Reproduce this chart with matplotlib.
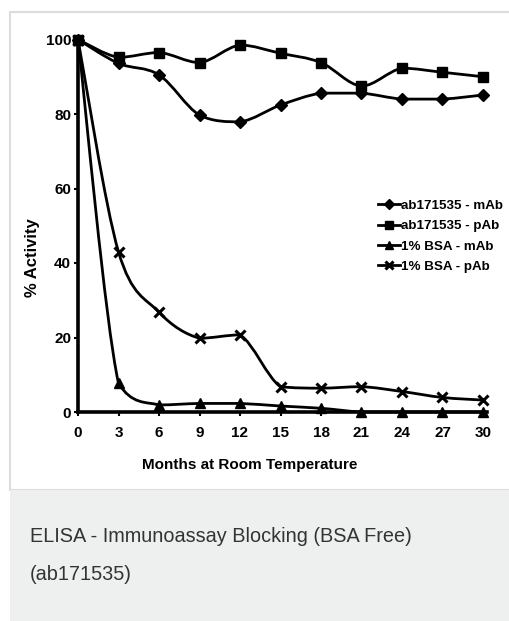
import matplotlib
matplotlib.use("Agg")
import matplotlib.pyplot as plt
from matplotlib.path import Path
from matplotlib.patches import PathPatch, Rectangle
from matplotlib.lines import Line2D
import numpy as np

# data
months = [0, 3, 6, 9, 12, 15, 18, 21, 24, 27, 30]
ab_mab = [100, 93.6, 90.5, 79.7, 77.9, 82.4, 85.6, 85.6, 84.0, 84.0, 85.1]
ab_pab = [100, 95.2, 96.5, 93.8, 98.5, 96.3, 93.8, 87.5, 92.3, 91.2, 90.0]
bsa_mab = [100, 7.7, 1.9, 2.3, 2.3, 1.6, 1.0, 0, 0, 0, 0]
bsa_pab = [100, 43.0, 26.8, 19.8, 20.7, 6.8, 6.4, 6.8, 5.5, 3.9, 3.2]
labels = ["ab171535 - mAb", "ab171535 - pAb", "1% BSA - mAb", "1% BSA - pAb"]
markers = ["D", "s", "^", "x"]

W, H = 510, 621
fig = plt.figure(figsize=(W / 100, H / 100), dpi=100)

# card background, border and caption panel
fig.patches.append(Rectangle((10 / W, 1 - 490 / H), 1, (490 - 12) / H,
                             transform=fig.transFigure, facecolor="white",
                             edgecolor="#dcdcdc", lw=1.5, zorder=-10))
fig.patches.append(Rectangle((10 / W, 0), 1, 1 - 490 / H,
                             transform=fig.transFigure, facecolor="#eeefef",
                             edgecolor="none", zorder=-10))

bold = dict(family="Liberation Sans", weight="bold")

ax = fig.add_axes([78 / W, (H - 412) / H, (483 - 78) / W, (412 - 39.5) / H])
ax.set_facecolor("none")
ax.set_xlim(0, 30)
ax.set_ylim(0, 100)
for s in ["top", "right"]:
    ax.spines[s].set_visible(False)
for s in ["left", "bottom"]:
    ax.spines[s].set_linewidth(2.6)
ax.spines["bottom"].set_bounds(0, 30.3)
ax.set_xticks(months)
ax.set_yticks([0, 20, 40, 60, 80, 100])
ax.tick_params(axis="both", direction="out", length=3, width=1.5, labelsize=11)
ax.tick_params(axis="x", pad=7)
ax.tick_params(axis="y", pad=2)
for lab in ax.get_xticklabels() + ax.get_yticklabels():
    lab.set_fontfamily(bold["family"])
    lab.set_fontweight("bold")


def smooth_path(x, y, t=1 / 6):
    # cubic bezier through the points, control points kept inside each segment
    pts = np.column_stack([x, y]).astype(float)
    n = len(pts)
    verts = [pts[0]]
    codes = [Path.MOVETO]
    for i in range(n - 1):
        p0 = pts[max(i - 1, 0)]
        p1 = pts[i]
        p2 = pts[i + 1]
        p3 = pts[min(i + 2, n - 1)]
        c1 = p1 + (p2 - p0) * t
        c2 = p2 - (p3 - p1) * t
        lo, hi = min(p1[1], p2[1]), max(p1[1], p2[1])
        c1[1] = np.clip(c1[1], lo, hi)
        c2[1] = np.clip(c2[1], lo, hi)
        verts += [c1, c2, p2]
        codes += [Path.CURVE4] * 3
    return Path(verts, codes)


series = [ab_mab, ab_pab, bsa_mab, bsa_pab]
msize = [6, 6.5, 6.5, 7]
handles = []
for ys, m, ms in zip(series, markers, msize):
    ax.add_patch(PathPatch(smooth_path(months, ys), facecolor="none",
                           edgecolor="black", lw=2.0, clip_on=False, zorder=3))
    mew = 2.2 if m == "x" else 1
    ax.plot(months, ys, ls="none", marker=m, ms=ms, color="black", mew=mew,
            clip_on=False, zorder=4)
    handles.append(Line2D([], [], color="black", lw=2.0, marker=m,
                          ms=ms * 0.8, mew=mew))

ax.legend(handles, labels, loc="upper left", bbox_to_anchor=(371 / W, 1 - 193 / H),
          bbox_transform=fig.transFigure, frameon=False, handlelength=1.7,
          handletextpad=0.05, labelspacing=0.6, borderpad=0,
          prop=dict(family=bold["family"], weight="bold", size=9.6))

fig.text(250 / W, 1 - 465 / H, "Months at Room Temperature", ha="center",
         va="center", fontsize=11, **bold)
fig.text(33 / W, 1 - 258 / H, "% Activity", ha="center", va="center",
         rotation=90, fontsize=12, **bold)

cap = dict(family="Liberation Sans", color="#333333", fontsize=14.3)
fig.text(30 / W, 1 - 537 / H, "ELISA - Immunoassay Blocking (BSA Free)",
         ha="left", va="center", **cap)
fig.text(30 / W, 1 - 575 / H, "(ab171535)", ha="left", va="center", **cap)

fig.savefig("out.png", dpi=100)
